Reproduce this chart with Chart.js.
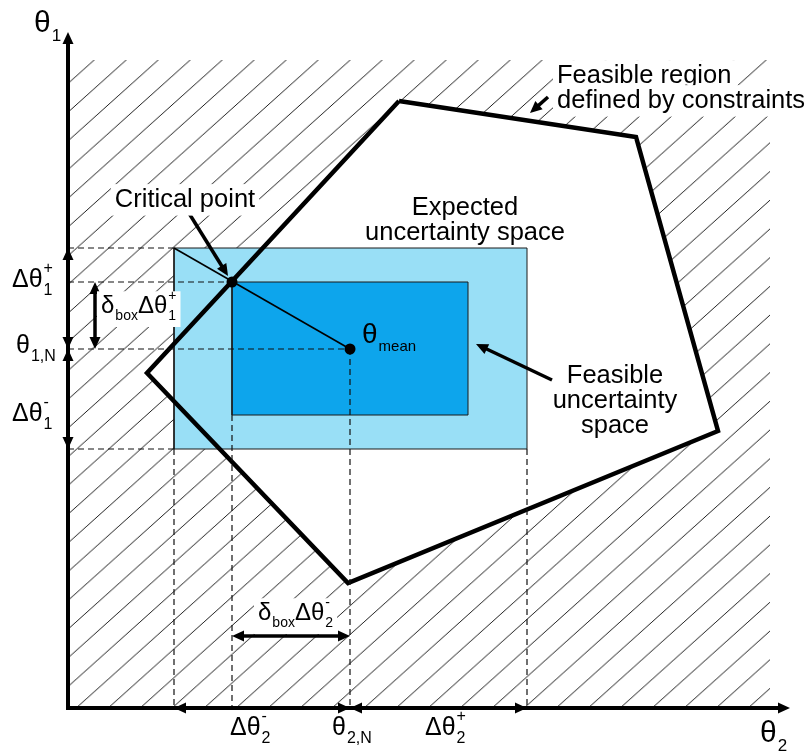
<!DOCTYPE html>
<html><head><meta charset="utf-8">
<script src="https://cdn.jsdelivr.net/npm/chart.js@4/dist/chart.umd.min.js"></script>
<style>html,body{margin:0;padding:0;background:#fff;overflow:hidden}#wrap{width:808px;height:751px}</style>
</head><body><div id="wrap"><canvas id="c" width="808" height="751"></canvas></div>
<script>
// ---- data (θ2 on the horizontal axis, θ1 on the vertical axis, origin at the axes corner) ----
const feasibleTheta2 = [331, 568, 650, 280, 79];     // feasible region polygon vertices
const feasibleTheta1 = [607, 571, 277, 125, 335];
const nominalTheta2 = 282;                            // θ2,N
const nominalTheta1 = 359;                            // θ1,N
const expectedTheta2 = [106, 459];                    // expected uncertainty space
const expectedTheta1 = [259, 460];
const feasibleBoxTheta2 = [164, 400];                 // feasible uncertainty space
const feasibleBoxTheta1 = [293, 426];
const criticalTheta2 = 164, criticalTheta1 = 426;     // critical point
const hatchTheta2 = [0, 702];                         // infeasible (hatched) area
const hatchTheta1 = [0, 648];
const axisEndTheta2 = 722, axisEndTheta1 = 676;

const FONT = '"Liberation Sans", Arial, Helvetica, sans-serif';

function rectPts(xs, ys) {
  return [{x:xs[0],y:ys[0]},{x:xs[1],y:ys[0]},{x:xs[1],y:ys[1]},{x:xs[0],y:ys[1]},{x:xs[0],y:ys[0]}];
}
function polyPts(xs, ys) {
  const p = xs.map((x,i)=>({x, y:ys[i]}));
  p.push({x:xs[0], y:ys[0]});
  return p;
}

// hatch pattern
const canvas = document.getElementById('c');
const ctx0 = canvas.getContext('2d');
const tile = document.createElement('canvas');
tile.width = 32; tile.height = 29;
const tg = tile.getContext('2d');
tg.strokeStyle = '#1f1f1f'; tg.lineWidth = 1;
tg.beginPath();
for (let n = 0; n <= 2; n++) {
  tg.moveTo(-10, 29*(n - (-10)/32));
  tg.lineTo(42, 29*(n - 42/32));
}
tg.stroke();
const hatch = ctx0.createPattern(tile, 'repeat');
try { hatch.setTransform(new DOMMatrix().translate(1, 0).scale(1, 28.72/29)); } catch(e) {}

// dashed guide lines
const dashSegs = [
  [[0, expectedTheta1[1]], [expectedTheta2[0], expectedTheta1[1]]],
  [[0, criticalTheta1], [criticalTheta2, criticalTheta1]],
  [[0, nominalTheta1], [nominalTheta2, nominalTheta1]],
  [[0, expectedTheta1[0]], [expectedTheta2[0], expectedTheta1[0]]],
  [[expectedTheta2[0], expectedTheta1[0]], [expectedTheta2[0], 0]],
  [[feasibleBoxTheta2[0], feasibleBoxTheta1[0]], [feasibleBoxTheta2[0], 0]],
  [[nominalTheta2, nominalTheta1], [nominalTheta2, 0]],
  [[expectedTheta2[1], expectedTheta1[0]], [expectedTheta2[1], 0]]
];

const base = {type:'line', pointRadius:0, tension:0, borderWidth:0, fill:false};
const datasets = [
  Object.assign({}, base, {label:'infeasible', data: rectPts(hatchTheta2, hatchTheta1), fill:'shape', backgroundColor: hatch, order: 10}),
  Object.assign({}, base, {label:'feasible fill', data: polyPts(feasibleTheta2, feasibleTheta1), fill:'shape', backgroundColor:'#ffffff', order: 9}),
  Object.assign({}, base, {label:'expected', data: rectPts(expectedTheta2, expectedTheta1), fill:'shape', backgroundColor:'#99DFF6', borderColor:'#1a1a1a', borderWidth:1, order: 8}),
  Object.assign({}, base, {label:'feasible box', data: rectPts(feasibleBoxTheta2, feasibleBoxTheta1), fill:'shape', backgroundColor:'#0DA5EC', borderColor:'#1a1a1a', borderWidth:1, order: 7}),
  Object.assign({}, base, {label:'feasible region', data: polyPts(feasibleTheta2, feasibleTheta1), borderColor:'#000', borderWidth:4.5, borderJoinStyle:'miter', order: 6}),
];
dashSegs.forEach((s, i) => datasets.push(Object.assign({}, base, {
  label:'dash'+i, data:[{x:s[0][0], y:s[0][1]}, {x:s[1][0], y:s[1][1]}],
  borderColor:'#111', borderWidth:1.2, borderDash:[6,4], order: 5})));
datasets.push(Object.assign({}, base, {label:'ray',
  data:[{x:expectedTheta2[0], y:expectedTheta1[1]}, {x:nominalTheta2, y:nominalTheta1}],
  borderColor:'#000', borderWidth:1.6, order: 4}));
datasets.push(Object.assign({}, base, {label:'points', showLine:false,
  data:[{x:criticalTheta2, y:criticalTheta1}, {x:nominalTheta2, y:nominalTheta1}],
  pointRadius:5.5, pointBackgroundColor:'#000', pointBorderColor:'#000', order: 3}));

// arrows: [x1,y1,x2,y2, lineWidth, heads('end'|'both')]
const arrows = [
  [0, nominalTheta1, 0, expectedTheta1[1], 4, 'both'],
  [0, nominalTheta1, 0, expectedTheta1[0], 4, 'both'],
  [nominalTheta2, 0, expectedTheta2[0], 0, 4, 'both'],
  [nominalTheta2, 0, expectedTheta2[1], 0, 4, 'both'],
  [27, criticalTheta1, 27, nominalTheta1, 3.5, 'both'],
  [criticalTheta2, 72, nominalTheta2, 72, 3.5, 'both'],
  [119, 498, 160, 432, 3.5, 'end'],
  [484, 328, 408, 364, 3.5, 'end'],
  [480, 611, 462, 595, 3.5, 'end']
];

// labels: position in data units, segments of {t, sub, sup}
const TS = 25.5;
const labels = [
  {x:-34, y:676, size:30, small:17, segs:[{t:'θ', sub:'1'}], align:'left'},
  {x:692, y:-34, size:30, small:17, segs:[{t:'θ', sub:'2'}], align:'left'},
  {x:-56, y:421, size:25, small:16, segs:[{t:'Δθ', sub:'1', sup:'+'}], align:'left'},
  {x:-52, y:355, size:25, small:16, segs:[{t:'θ', sub:'1,N'}], align:'left'},
  {x:-56, y:287, size:25, small:16, segs:[{t:'Δθ', sub:'1', sup:'-'}], align:'left'},
  {x:33, y:395, size:24, small:14, segs:[{t:'δ', sub:'box'}, {t:'Δθ', sub:'1', sup:'+'}], align:'left', bg:true},
  {x:190, y:88, size:24, small:14, segs:[{t:'δ', sub:'box'}, {t:'Δθ', sub:'2', sup:'-'}], align:'left', bg:true},
  {x:162, y:-27, size:25, small:16, segs:[{t:'Δθ', sub:'2', sup:'-'}], align:'left'},
  {x:264, y:-27, size:25, small:16, segs:[{t:'θ', sub:'2,N'}], align:'left'},
  {x:357, y:-27, size:25, small:16, segs:[{t:'Δθ', sub:'2', sup:'+'}], align:'left'},
  {x:294, y:365, size:28, small:15, segs:[{t:'θ', sub:'mean'}], align:'left'},
  {x:117, y:501, size:TS, segs:[{t:'Critical point'}], align:'center', bg:true},
  {x:397, y:493, size:TS, segs:[{t:'Expected'}], align:'center'},
  {x:397, y:468, size:TS, segs:[{t:'uncertainty space'}], align:'center'},
  {x:547, y:325, size:TS, segs:[{t:'Feasible'}], align:'center'},
  {x:547, y:300, size:TS, segs:[{t:'uncertainty'}], align:'center'},
  {x:547, y:275, size:TS, segs:[{t:'space'}], align:'center'},
  {x:489, y:625, size:TS, segs:[{t:'Feasible region'}], align:'left', bg:true},
  {x:489, y:600, size:TS, segs:[{t:'defined by constraints'}], align:'left', bg:true}
];

function drawHead(ctx, x1, y1, x2, y2, len, hw) {
  const a = Math.atan2(y2 - y1, x2 - x1);
  ctx.beginPath();
  ctx.moveTo(x2, y2);
  ctx.lineTo(x2 - len*Math.cos(a) + hw*Math.sin(a), y2 - len*Math.sin(a) - hw*Math.cos(a));
  ctx.lineTo(x2 - len*Math.cos(a) - hw*Math.sin(a), y2 - len*Math.sin(a) + hw*Math.cos(a));
  ctx.closePath();
  ctx.fill();
}
function drawArrow(ctx, x1, y1, x2, y2, w, heads) {
  const len = 12, hw = 5.5;
  const a = Math.atan2(y2 - y1, x2 - x1);
  let sx = x1, sy = y1, ex = x2 - (len-2)*Math.cos(a), ey = y2 - (len-2)*Math.sin(a);
  if (heads === 'both') { sx = x1 + (len-2)*Math.cos(a); sy = y1 + (len-2)*Math.sin(a); }
  ctx.lineWidth = w; ctx.lineCap = 'butt';
  ctx.beginPath(); ctx.moveTo(sx, sy); ctx.lineTo(ex, ey); ctx.stroke();
  drawHead(ctx, x1, y1, x2, y2, len, hw);
  if (heads === 'both') drawHead(ctx, x2, y2, x1, y1, len, hw);
}

function drawLabel(ctx, X, Y, L) {
  const big = L.size + 'px ' + FONT, small = (L.small || 14) + 'px ' + FONT;
  const subDy = Math.round(L.size * 0.3), supDy = -Math.round(L.size * 0.55);
  let w = 0;
  const widths = L.segs.map(s => {
    ctx.font = big; const tw = ctx.measureText(s.t).width;
    ctx.font = small;
    const sw = Math.max(s.sub ? ctx.measureText(s.sub).width : 0, s.sup ? ctx.measureText(s.sup).width : 0);
    w += tw + sw + (sw ? 1 : 0);
    return [tw, sw];
  });
  let x = L.align === 'center' ? X - w/2 : X;
  if (L.bg) {
    ctx.fillStyle = '#fff';
    const hasSub = L.segs.some(s => s.sub);
    ctx.fillRect(x - 4, Y - L.size*0.78 - 3, w + 8, L.size*0.78 + (hasSub ? subDy + 4 : L.size*0.22) + 6);
  }
  ctx.fillStyle = '#000';
  ctx.textBaseline = 'alphabetic'; ctx.textAlign = 'left';
  L.segs.forEach((s, i) => {
    ctx.font = big; ctx.fillText(s.t, x, Y);
    x += widths[i][0] + 1;
    ctx.font = small;
    if (s.sub) ctx.fillText(s.sub, x, Y + subDy);
    if (s.sup) ctx.fillText(s.sup, x, Y + supDy);
    x += widths[i][1];
  });
}

const overlay = {
  id: 'overlay',
  afterDatasetsDraw(chart) {
    const ctx = chart.ctx, xs = chart.scales.x, ys = chart.scales.y;
    const X = v => xs.getPixelForValue(v), Y = v => ys.getPixelForValue(v);
    ctx.save();
    ctx.strokeStyle = '#000'; ctx.fillStyle = '#000';
    // axes
    const ox = X(0), oy = Y(0), ty = Y(axisEndTheta1), tx = X(axisEndTheta2);
    ctx.lineWidth = 4; ctx.lineJoin = 'miter';
    ctx.beginPath(); ctx.moveTo(ox, ty + 10); ctx.lineTo(ox, oy); ctx.lineTo(tx - 10, oy); ctx.stroke();
    drawHead(ctx, ox, oy, ox, ty, 12, 5.5);
    drawHead(ctx, ox, oy, tx, oy, 12, 5.5);
    arrows.forEach(a => drawArrow(ctx, X(a[0]), Y(a[1]), X(a[2]), Y(a[3]), a[4], a[5]));
    labels.forEach(L => drawLabel(ctx, X(L.x), Y(L.y), L));
    ctx.restore();
  }
};

new Chart(canvas, {
  type: 'line',
  data: { datasets },
  options: {
    responsive: false, animation: false, devicePixelRatio: 1,
    layout: { padding: 0, autoPadding: false },
    plugins: { legend: {display:false}, tooltip: {enabled:false}, filler: {propagate:false} },
    scales: {
      x: { type:'linear', min:-68, max:740, display:false },
      y: { type:'linear', min:-43, max:708, display:false }
    },
    elements: { line: { borderCapStyle:'butt' } }
  },
  plugins: [overlay]
});
</script>
</body></html>
